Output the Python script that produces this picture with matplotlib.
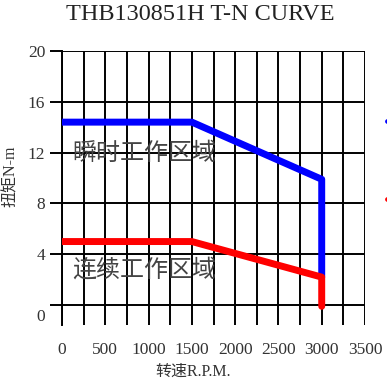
import matplotlib
matplotlib.use("Agg")
import matplotlib.pyplot as plt
import matplotlib.transforms as mtransforms
from matplotlib.lines import Line2D

# data
speed_peak = [0, 1500, 3000, 3000]
torque_peak = [14.4, 14.4, 9.9, 2.2]
speed_cont = [0, 1500, 3000, 3000]
torque_cont = [5.0, 5.0, 2.2, -0.1]
x_ticks = [0, 500, 1000, 1500, 2000, 2500, 3000, 3500]
y_ticks = [0, 4, 8, 12, 16, 20]
x_grid = list(range(0, 3501, 250))
title = "THB130851H T-N CURVE"
label_peak = "瞬时工作区域"
label_cont = "连续工作区域"
xlabel = "转速R.P.M."
ylabel = "扭矩N-m"

serif = ["Liberation Serif", "Noto Sans CJK SC"]
cjk = ["Noto Sans CJK SC", "DejaVu Sans"]

fig = plt.figure(figsize=(3.87, 3.91), dpi=100)
W, H = 387, 391
ax = fig.add_axes([62 / W, 1 - 325 / H, 303 / W, 274 / H])
ax.set_xlim(0, 3500)
ax.set_ylim(-1.57, 20)

glw = 1.4
for xv in x_grid:
    ax.axvline(xv, color="black", lw=glw, zorder=1)
for yv in y_ticks:
    ax.axhline(yv, color="black", lw=glw, zorder=1)

for s in ["top", "right", "bottom"]:
    ax.spines[s].set_visible(False)
ax.spines["left"].set_linewidth(glw)

ax.plot(speed_peak, torque_peak, color="#0000ff", lw=5, solid_capstyle="round",
        solid_joinstyle="round", zorder=3, label="peak")
ax.plot(speed_cont, torque_cont, color="#ff0000", lw=5, solid_capstyle="round",
        solid_joinstyle="round", zorder=4, label="cont")

ax.set_xticks(x_ticks)
ax.set_xticklabels([str(v) for v in x_ticks], family="Liberation Serif", fontsize=12.5, color="#333333")
ax.set_yticks(y_ticks)
ax.set_yticklabels([str(v) for v in y_ticks], family="Liberation Serif", fontsize=12.5, color="#333333")
ax.tick_params(axis="x", length=0, pad=12)
ax.tick_params(axis="y", length=8.6, width=glw, pad=3.5, direction="out")

# lower the "0" label a little as in the reference
for lab in ax.get_yticklabels():
    if lab.get_text() == "0":
        lab.set_transform(lab.get_transform() + mtransforms.ScaledTranslation(0, -10 / 100, fig.dpi_scale_trans))

ax.text(120, 12.0, label_peak, family=cjk, fontsize=17.3, color="#444444", va="center", ha="left", zorder=2)
ax.text(120, 2.76, label_cont, family=cjk, fontsize=17.3, color="#444444", va="center", ha="left", zorder=2)

fig.text(200 / W, 1 - 15 / H, title, family="Liberation Serif", fontsize=17.5, color="#222222",
         ha="center", va="center")
fig.text(193 / W, 1 - 372 / H, xlabel, family=serif, fontsize=11.5, color="#333333",
         ha="center", va="center")
fig.text(11 / W, 1 - 176 / H, ylabel, family=serif, fontsize=11.5, color="#333333",
         ha="center", va="center", rotation=90)

handles = [Line2D([0], [0], color="#0000ff", lw=3.5, solid_capstyle="round"),
           Line2D([0], [0], color="#ff0000", lw=3.5, solid_capstyle="round")]
leg = fig.legend(handles, ["", ""], loc="upper left", bbox_to_anchor=(379 / W, 1 - 107 / H),
                 frameon=False, handlelength=1.5, labelspacing=4.6, borderaxespad=0.3,
                 borderpad=0.3, prop={"family": cjk, "size": 10})

fig.savefig("out.png", dpi=100)
